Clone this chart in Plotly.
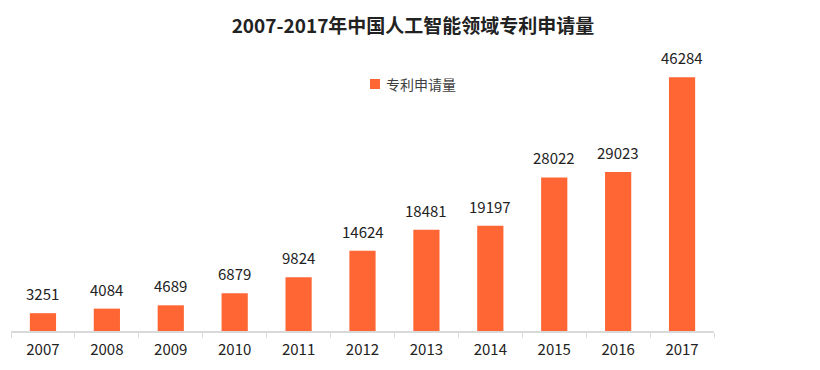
import plotly.graph_objects as go

years = ["2007", "2008", "2009", "2010", "2011", "2012", "2013", "2014", "2015", "2016", "2017"]
applications = [3251, 4084, 4689, 6879, 9824, 14624, 18481, 19197, 28022, 29023, 46284]
series_name = "专利申请量"
title_text = "2007-2017年中国人工智能领域专利申请量"

FONT = "Noto Sans CJK SC"
BAR = "#FF6633"

fig = go.Figure()
fig.add_trace(go.Bar(
    x=years, y=applications, name=series_name,
    marker=dict(color=BAR, line=dict(width=0)),
    cliponaxis=False, showlegend=False,
))

# value labels above bars (category index positions)
for i, v in enumerate(applications):
    fig.add_annotation(x=i, y=v, text=str(v), xref="x", yref="y",
                       yanchor="bottom", yshift=7, showarrow=False,
                       font=dict(family=FONT, size=15, color="#222222"))

# legend (swatch + label)
fig.add_shape(type="rect", xref="paper", yref="paper",
              x0=(370 - 11) / 703, x1=(380 - 11) / 703,
              y0=(331 - 89) / 274, y1=(331 - 79) / 274,
              fillcolor=BAR, line=dict(width=0))
fig.add_annotation(text=series_name, xref="paper", yref="paper",
                   x=(384 - 11) / 703, xanchor="left", y=(331 - 84) / 274, yanchor="middle",
                   showarrow=False, font=dict(family=FONT, size=14, color="#404040"))

fig.update_layout(
    width=812, height=362,
    margin=dict(l=3, r=106, t=49, b=39),
    paper_bgcolor="white", plot_bgcolor="white",
    bargap=0.59,
    title=dict(text=title_text, x=0.4988, xanchor="center", y=0.9495, yanchor="middle",
               font=dict(family=FONT, size=19, color="#222222", weight="bold")),
    showlegend=False,
    font=dict(family=FONT),
    xaxis=dict(type="category", categoryorder="array", categoryarray=years,
               range=[-0.5, len(years) - 0.5],
               showline=True, linecolor="#d9d9d9", linewidth=2,
               ticks="outside", tickson="boundaries", ticklen=5, tickcolor="#d9d9d9",
               ticklabelstandoff=4,
               tickfont=dict(family=FONT, size=15, color="#222222"), showgrid=False,
               automargin=False),
    yaxis=dict(range=[0, 50000], visible=False, showgrid=False, zeroline=False,
               automargin=False),
)

fig.write_html("out.html")
